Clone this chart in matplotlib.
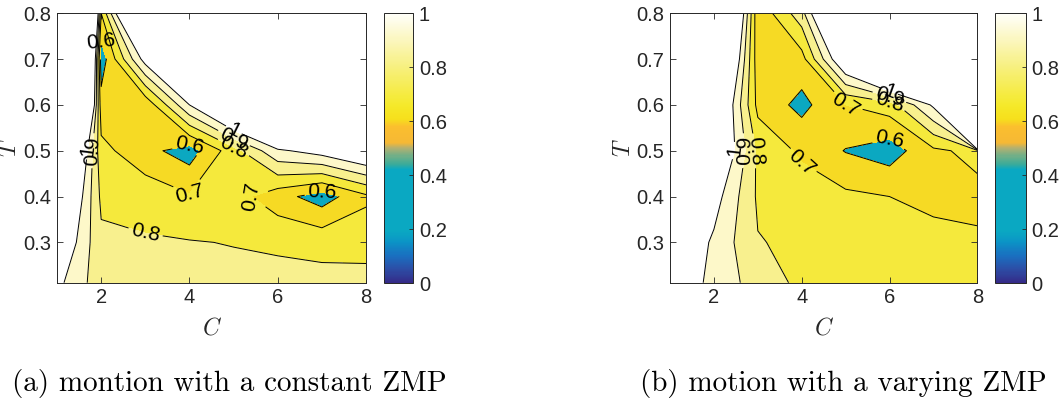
import matplotlib
matplotlib.use('Agg')
import matplotlib.pyplot as plt
import matplotlib.colors as mcolors
import matplotlib.cm as cm
import numpy as np

# Grid
C = [1, 2, 3, 4, 5, 6, 7, 8]
T = [0.212, 0.3, 0.4, 0.5, 0.6, 0.7, 0.8]

# (a) motion with a constant ZMP  (rows = T, columns = C), >1 is infeasible
za = [
    [1.03, 0.84, 0.84, 0.83, 0.83, 0.83, 0.83, 0.83],
    [1.14, 0.82, 0.81, 0.805, 0.796, 0.785, 0.77, 0.767],
    [1.30, 0.78, 0.76, 0.71, 0.74, 0.64, 0.55, 0.68],
    [1.60, 0.73, 0.633, 0.55, 0.76, 0.98, 1.05, 1.15],
    [3.0, 0.64, 0.62, 1.0, 1.3, 1.6, 2.0, 2.0],
    [4.0, 0.54, 1.05, 2.0, 2.0, 2.0, 2.0, 2.0],
    [5.0, 0.70, 1.6, 2.0, 2.0, 2.0, 2.0, 2.0],
]

# (b) motion with a varying ZMP
zb = [
    [1.17, 0.945, 0.87, 0.77, 0.76, 0.75, 0.74, 0.73],
    [1.15, 0.98, 0.805, 0.78, 0.75, 0.74, 0.725, 0.717],
    [2.0, 1.05, 0.785, 0.76, 0.72, 0.70, 0.68, 0.67],
    [2.0, 1.2, 0.78, 0.68, 0.595, 0.55, 0.68, 0.73],
    [2.0, 1.25, 0.67, 0.57, 0.70, 0.75, 1.02, 10.0],
    [2.0, 1.5, 0.64, 0.66, 1.15, 1.6, 2.0, 10.0],
    [2.0, 1.8, 0.62, 0.86, 1.5, 2.0, 2.0, 10.0],
]

captions = ['(a) montion with a constant ZMP', '(b) motion with a varying ZMP']

# Contour levels and fills
fill_levels = [0.0, 0.6, 0.7, 0.8, 0.9, 1.0, 100.0]
fill_colors = ['#0ba8c1', '#f6da24', '#f5e93c', '#f8f08e', '#fdf8c9', 'white']
line_levels = [0.6, 0.7, 0.8, 0.9, 1.0]

# colorbar map (matlab-ish custom map)
cbar_stops = [
    (0.00, '#352a87'), (0.05, '#2c4ea6'), (0.10, '#1a6fc0'), (0.15, '#0b93c6'),
    (0.19, '#0aa8c2'), (0.42, '#0aa8c2'), (0.44, '#3aab9a'), (0.47, '#6faf88'),
    (0.50, '#b3b070'), (0.52, '#f5b835'), (0.58, '#fbbf2e'), (0.61, '#f6e01c'),
    (0.66, '#f5e92a'), (0.80, '#f7f07e'), (0.90, '#fbf6bd'), (1.00, '#fffffa'),
]
cmap = mcolors.LinearSegmentedColormap.from_list('zmp', cbar_stops, N=256)

plt.rcParams['font.family'] = ['Liberation Sans', 'DejaVu Sans']
plt.rcParams['mathtext.fontset'] = 'cm'

fig = plt.figure(figsize=(10.62, 4.07), dpi=100)

ax_pos = [[0.0537, 0.3054, 0.291, 0.662], [0.6309, 0.3054, 0.2894, 0.662]]
cb_pos = [[0.3616, 0.3046, 0.0276, 0.663], [0.9369, 0.3046, 0.0289, 0.663]]
cap_x = [0.216, 0.794]

X, Y = np.meshgrid(C, T)
for i, z in enumerate([za, zb]):
    ax = fig.add_axes(ax_pos[i])
    Z = np.array(z)
    ax.contourf(X, Y, Z, levels=fill_levels, colors=fill_colors)
    cs = ax.contour(X, Y, Z, levels=line_levels, colors='black', linewidths=0.7)
    ax.clabel(cs, fmt='%g', fontsize=15, inline=True, inline_spacing=3)

    ax.set_xlim(1, 8)
    ax.set_ylim(0.212, 0.8)
    ax.set_xticks([2, 4, 6, 8])
    ax.set_yticks([0.3, 0.4, 0.5, 0.6, 0.7, 0.8])
    ax.tick_params(direction='in', top=True, right=True, labelsize=14.5,
                   colors='#262626', length=4, width=0.6, pad=4)
    for s in ax.spines.values():
        s.set_color('#262626')
        s.set_linewidth(0.7)
    ax.set_xlabel('$C$', fontsize=17, color='#262626')
    ax.set_ylabel('$T$', fontsize=17, color='#262626', rotation=90)
    ax.xaxis.set_label_coords(0.5, -0.13)
    ax.yaxis.set_label_coords(-0.115, 0.5)

    cax = fig.add_axes(cb_pos[i])
    sm = cm.ScalarMappable(norm=mcolors.Normalize(0, 1), cmap=cmap)
    cb = fig.colorbar(sm, cax=cax, ticks=[0, 0.2, 0.4, 0.6, 0.8, 1])
    cb.ax.set_yticklabels(['0', '0.2', '0.4', '0.6', '0.8', '1'])
    cb.ax.tick_params(direction='in', labelsize=14.5, colors='#262626',
                      length=3, width=0.6, pad=4)
    cb.outline.set_edgecolor('#262626')
    cb.outline.set_linewidth(0.7)

    fig.text(cap_x[i], 0.058, captions[i], family='cmr10', fontsize=21,
             ha='center', va='center')

fig.savefig('out.png', dpi=100)
